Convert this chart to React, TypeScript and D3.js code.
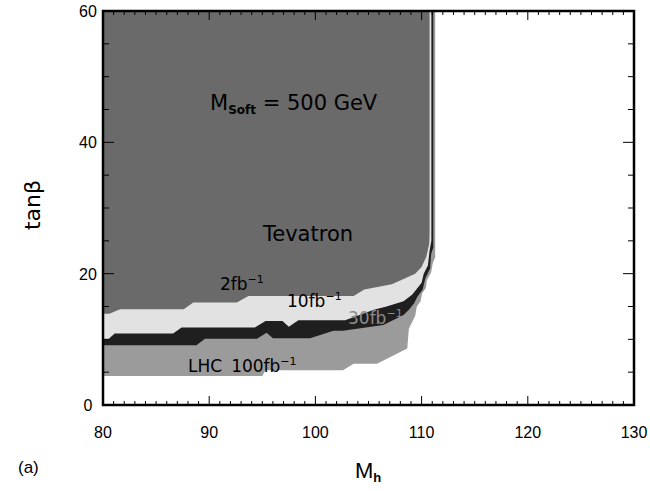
import React from 'react';
import * as d3 from 'd3';

// lower boundaries [M_h, tanBeta] of each discovery region
const lhc100fb: [number, number][] = [
  [80, 4.4], [95.0, 4.4], [95.3, 5.3], [102.6, 5.3], [103.6, 6.3], [105.8, 6.3],
  [108.65, 8.6], [108.8, 11.6], [109.1, 12.6], [109.4, 13.6], [109.55, 15.0],
  [109.9, 15.8], [110.05, 17.0], [110.4, 17.8], [110.5, 19.0], [110.9, 20.2],
  [111.05, 21.6], [111.28, 22.5], [111.28, 60],
];

const lhc30fb: [number, number][] = [
  [80, 9.1], [88.8, 9.1], [89.6, 10.1], [94.5, 10.1], [95.4, 11.0], [96.0, 10.15],
  [99.5, 10.15], [101.7, 11.3], [102.6, 11.3], [106.4, 12.2], [108.3, 13.7],
  [108.8, 14.5], [109.3, 15.5], [109.6, 16.5], [110.1, 17.6], [110.35, 19.3],
  [110.8, 20.8], [110.9, 23.0], [111.1, 24.0], [111.1, 60],
];

const lhc10fb: [number, number][] = [
  [80, 10.0], [80.5, 10.0], [81.1, 10.9], [86.6, 10.9], [87.4, 11.8], [94.3, 11.8],
  [95.3, 12.8], [96.9, 12.8], [97.5, 11.9], [98.4, 12.9], [102.8, 12.9],
  [105.5, 14.5], [106.7, 15.0], [108.3, 15.8], [109.1, 16.8], [109.5, 17.6],
  [110.0, 18.6], [110.2, 20.0], [110.6, 21.3], [110.75, 23.5], [110.92, 25.0],
  [110.92, 60],
];

const tevatron2fb: [number, number][] = [
  [80, 13.9], [80.6, 13.9], [81.6, 14.6], [87.6, 14.6], [88.5, 15.6], [92.6, 15.6],
  [93.7, 16.6], [103.6, 16.6], [104.6, 17.6], [107.2, 18.4], [108.3, 19.2],
  [109.4, 20.0], [110.0, 21.0], [110.45, 22.6], [110.72, 24.6], [110.75, 26],
  [110.75, 60],
];

const regions = [
  { name: '100fb', pts: lhc100fb, color: '#9b9b9b' },
  { name: '30fb', pts: lhc30fb, color: '#1f1f1f' },
  { name: '10fb', pts: lhc10fb, color: '#e2e2e2' },
  { name: '2fb', pts: tevatron2fb, color: '#6a6a6a' },
];

const xTicks = [80, 90, 100, 110, 120, 130];
const yTicks = [0, 20, 40, 60];

const W = 650;
const H = 491;

const App: React.FC = () => {
  const x = d3.scaleLinear().domain([80, 130]).range([103, 634]);
  const y = d3.scaleLinear().domain([0, 60]).range([405, 11]);

  const line = d3.line<[number, number]>()
    .x(d => x(d[0]))
    .y(d => y(d[1]));

  const areaPath = (pts: [number, number][]) =>
    line([...pts, [80, 60]]) + 'Z';

  const xMinor = d3.range(80, 131, 1);
  const yMinor = d3.range(0, 61, 5);

  const num = { fontFamily: '"Liberation Sans", Arial, sans-serif', fontSize: 16, fill: '#000' };
  const geo = { fontFamily: '"DejaVu Sans", sans-serif', fill: '#000' };

  return (
    <svg width={W} height={H} style={{ position: 'absolute', left: 0, top: 0, background: '#fff' }}>
      <defs>
        <clipPath id="plot">
          <rect x={x(80)} y={y(60)} width={x(130) - x(80)} height={y(0) - y(60)} />
        </clipPath>
      </defs>

      <g clipPath="url(#plot)">
        {regions.map(r => (
          <path key={r.name} d={areaPath(r.pts)} fill={r.color} stroke="none" />
        ))}
      </g>

      {/* ticks */}
      <g stroke="#000" strokeWidth={1}>
        {xMinor.map(v => {
          const len = v % 10 === 0 ? 9 : 4;
          return (
            <g key={'x' + v}>
              <line x1={x(v)} x2={x(v)} y1={y(0)} y2={y(0) - len} />
              <line x1={x(v)} x2={x(v)} y1={y(60)} y2={y(60) + len} />
            </g>
          );
        })}
        {yMinor.map(v => {
          const len = v % 20 === 0 ? 11 : 6;
          return (
            <g key={'y' + v}>
              <line x1={x(80)} x2={x(80) + len} y1={y(v)} y2={y(v)} />
              <line x1={x(130)} x2={x(130) - len} y1={y(v)} y2={y(v)} />
            </g>
          );
        })}
      </g>

      <rect x={x(80)} y={y(60)} width={x(130) - x(80)} height={y(0) - y(60)}
        fill="none" stroke="#000" strokeWidth={2.5} />

      {/* tick labels */}
      {xTicks.map(v => (
        <text key={'xl' + v} x={x(v)} y={438} textAnchor="middle" {...num}>{v}</text>
      ))}
      {yTicks.map(v => (
        <text key={'yl' + v} x={88} y={y(v) + 6} textAnchor="middle" {...num}>{v}</text>
      ))}

      {/* axis titles */}
      <text x={355} y={478} {...num} fontSize={22}>
        M<tspan fontSize={13} fontWeight="bold" dy={4}>h</tspan>
      </text>
      <text transform="translate(40,205) rotate(-90)" textAnchor="middle" {...geo} fontSize={22}>
        tanβ
      </text>
      <text x={18} y={473} {...num} fontSize={17}>(a)</text>

      {/* annotations */}
      <text x={210} y={110} {...geo} fontSize={21}>
        M<tspan fontSize={12} fontWeight="bold" dy={4}>Soft</tspan>
        <tspan dy={-4}> = 500 GeV</tspan>
      </text>
      <text x={263} y={241} {...geo} fontSize={21}>Tevatron</text>
      <text x={220} y={290} {...geo} fontSize={17}>
        2fb<tspan fontSize={11} dy={-7}>−1</tspan>
      </text>
      <text x={287} y={307} {...geo} fontSize={17}>
        10fb<tspan fontSize={11} dy={-7}>−1</tspan>
      </text>
      <text x={348} y={324} {...geo} fontSize={17} fill="#8c8c8c">
        30fb<tspan fontSize={11} dy={-7}>−1</tspan>
      </text>
      <text x={188} y={372} {...geo} fontSize={17}>
        LHC<tspan dx={9}>100fb</tspan><tspan fontSize={11} dy={-7}>−1</tspan>
      </text>
    </svg>
  );
};

export default App;
